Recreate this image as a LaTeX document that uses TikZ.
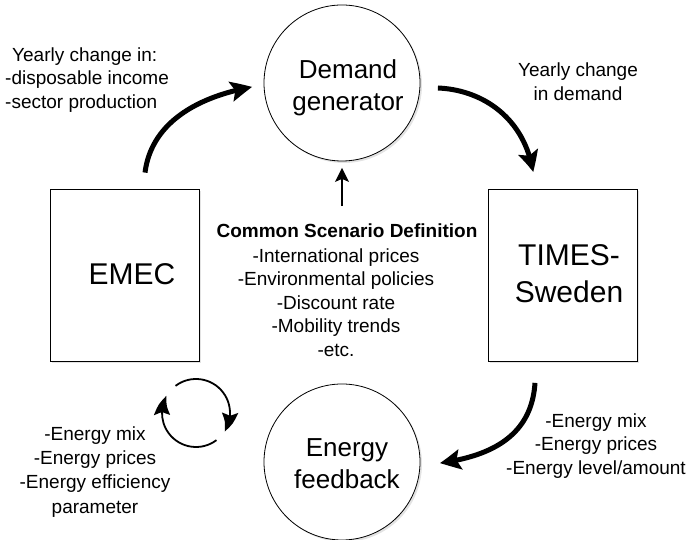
\documentclass[tikz,border=0pt]{standalone}
\usepackage{fontspec}
\setmainfont{Liberation Sans}
\usetikzlibrary{arrows.meta,bending,calc,shadows}
\begin{document}
\begin{tikzpicture}[x=1pt,y=1pt,
  shapeline/.style={draw=black, line width=0.8pt, fill=white,
    drop shadow={shadow xshift=2pt, shadow yshift=-2pt, opacity=0.22}},
  modelbox/.style={shapeline, rectangle, minimum width=149pt, minimum height=172pt, inner sep=0pt},
  stage/.style={shapeline, circle, minimum size=156pt, inner sep=0pt},
  bigtext/.style={font=\fontsize{30}{37}\selectfont, align=center, inner sep=0pt},
  midtext/.style={font=\fontsize{26}{32}\selectfont, align=center, inner sep=0pt},
  note/.style={font=\fontsize{19}{23.5}\selectfont, inner sep=0pt},
  flow/.style={line width=5pt, -{Stealth[length=21pt,width=20pt,inset=4pt,bend]}},
  swirl/.style={line width=1.8pt, -{Stealth[length=20pt,width=16pt,inset=3pt,bend]}},
  feed/.style={line width=1.5pt, -{Stealth[length=14pt,width=14pt,inset=3pt]}},
]
\useasboundingbox (0,0) rectangle (686,540);

% model boxes and stage circles
\node[stage] (dg) at (342,457) {};
\node[stage] (ef) at (342,78) {};
\node[modelbox] (emec) at (124.5,265) {};
\node[modelbox] (times) at (562.5,264.5) {};

% their labels
\node[midtext] (dgt) at (348,452.5) {Demand\\generator};
\node[midtext] (eft) at (347,76.3) {Energy\\feedback};
\node[bigtext] (emect) at (132,266) {EMEC};
\node[bigtext] (timest) at (569,266) {TIMES-\\Sweden};

% annotations
\node[note, align=left, anchor=north west] (yin) at (5,492.6)
  {\hspace*{7pt}Yearly change in:\\-disposable income\\-sector production};
\node[note, align=center] (ydem) at (578,458.3) {Yearly change\\in demand};
\node[note, font=\fontsize{19}{23.5}\selectfont\bfseries, anchor=base] (cstitle) at (347,302)
  {Common Scenario Definition};
\node[note, align=center, anchor=north] (cslist) at (336,291.6)
  {-International prices\\-Environmental policies\\-Discount rate\\-Mobility trends\\-etc.};
\node[note, align=center, anchor=north] (efout) at (596,126.6)
  {-Energy mix\\-Energy prices\\-Energy level/amount};
\node[note, align=center, anchor=north, font=\fontsize{19}{24.3}\selectfont] (efin) at (95,113.6)
  {-Energy mix\\-Energy prices\\-Energy efficiency\\parameter};

% main loop
\draw[flow] ($(emec.north)+(20.5,16)$)
  .. controls ($(emec.north)+(27.5,71)$) and ($(dg.west)+(-57,-12)$)
  .. ($(dg.west)+(-11.5,-4)$);
\draw[flow] ($(dg.east)+(17.5,-5)$)
  .. controls ($(dg.east)+(64.5,-7)$) and ($(times.north)+(-37.5,69)$)
  .. ($(times.north)+(-29.5,17)$);
\draw[flow] ($(times.south)+(-27.5,-21)$)
  .. controls ($(times.south)+(-30.5,-68)$) and ($(ef.east)+(79.5,7)$)
  .. ($(ef.east)+(19.5,-1)$);

% scenario input
\draw[feed] ($(cstitle.north -| dg.south)+(0,18)$) -- ($(dg.south)+(0,-6.5)$);

% two-way exchange symbol
\coordinate (cyc) at (196,127);
\draw[swirl] ($(cyc)+(127:34)$) arc[start angle=127, end angle=-33, radius=34];
\draw[swirl] ($(cyc)+(-53:34)$) arc[start angle=-53, end angle=-210, radius=34];
\end{tikzpicture}
\end{document}
